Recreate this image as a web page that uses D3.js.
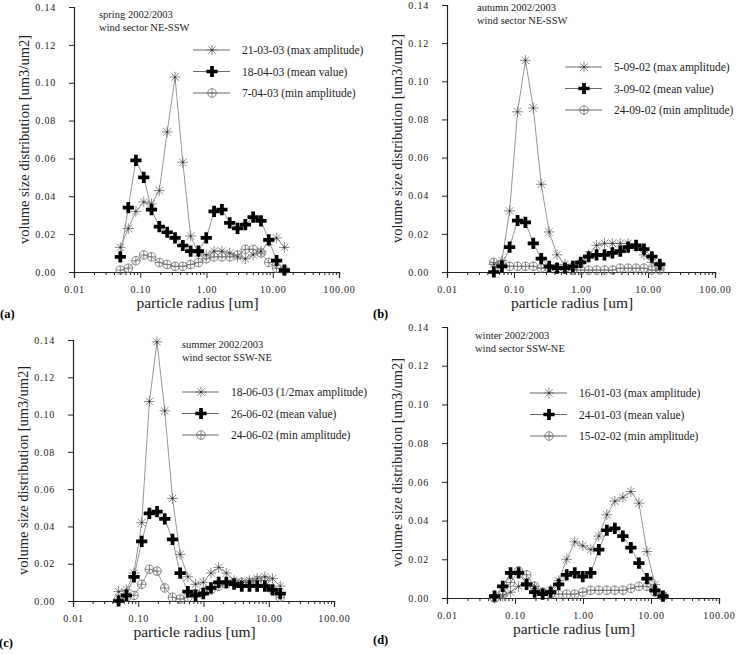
<!DOCTYPE html>
<html>
<head>
<meta charset="utf-8">
<script src="https://cdn.jsdelivr.net/npm/d3@7"></script>
<style>
  body { margin: 0; background: #fff; }
  svg text { font-family: "Liberation Serif", "DejaVu Serif", "Times New Roman", Times, serif; }
</style>
</head>
<body>
<svg id="chart" width="743" height="654"></svg>
<script>
// particle radius bins [um]
const radius = [0.050, 0.066, 0.086, 0.113, 0.148, 0.194, 0.255, 0.335, 0.439, 0.576, 0.756,
                0.992, 1.302, 1.708, 2.241, 2.940, 3.857, 5.061, 6.641, 8.713, 11.432, 15.000];

const yTicks = [0, 0.02, 0.04, 0.06, 0.08, 0.10, 0.12, 0.14];
const xTicks = [0.01, 0.1, 1, 10, 100];

// (a) spring
const springMax  = [0.013, 0.023, 0.032, 0.037, 0.036, 0.043, 0.074, 0.103, 0.058, 0.019, 0.010,
                    0.009, 0.011, 0.011, 0.010, 0.008, 0.007, 0.009, 0.011, 0.016, 0.018, 0.013];
const springMean = [0.008, 0.034, 0.059, 0.050, 0.033, 0.024, 0.021, 0.018, 0.014, 0.011, 0.011,
                    0.018, 0.032, 0.033, 0.026, 0.023, 0.025, 0.029, 0.027, 0.017, 0.006, 0.001];
const springMin  = [0.001, 0.002, 0.006, 0.009, 0.008, 0.005, 0.004, 0.003, 0.003, 0.004, 0.005,
                    0.007, 0.008, 0.008, 0.008, 0.009, 0.012, 0.012, 0.010, 0.005, 0.002, 0.001];
// (b) autumn
const autumnMax  = [0.004, 0.006, 0.032, 0.084, 0.111, 0.086, 0.046, 0.021, 0.009, 0.004, 0.003,
                    0.005, 0.009, 0.014, 0.015, 0.015, 0.015, 0.015, 0.013, 0.009, 0.005, 0.002];
const autumnMean = [0.000, 0.003, 0.013, 0.027, 0.026, 0.015, 0.007, 0.003, 0.002, 0.002, 0.003,
                    0.005, 0.008, 0.009, 0.009, 0.010, 0.011, 0.013, 0.014, 0.012, 0.008, 0.004];
const autumnMin  = [0.005, 0.004, 0.003, 0.003, 0.003, 0.003, 0.002, 0.002, 0.002, 0.002, 0.001,
                    0.001, 0.001, 0.001, 0.001, 0.001, 0.002, 0.002, 0.002, 0.002, 0.001, 0.001];
// (c) summer
const summerMax  = [0.005, 0.006, 0.015, 0.042, 0.107, 0.139, 0.102, 0.055, 0.025, 0.013, 0.009,
                    0.010, 0.015, 0.018, 0.015, 0.011, 0.010, 0.011, 0.012, 0.013, 0.012, 0.008];
const summerMean = [0.000, 0.003, 0.013, 0.032, 0.047, 0.048, 0.044, 0.033, 0.015, 0.005, 0.003,
                    0.004, 0.007, 0.010, 0.010, 0.009, 0.008, 0.008, 0.008, 0.008, 0.006, 0.004];
const summerMin  = [0.001, 0.002, 0.003, 0.009, 0.017, 0.016, 0.007, 0.002, 0.001, 0.002, 0.004,
                    0.005, 0.006, 0.008, 0.009, 0.010, 0.010, 0.010, 0.011, 0.011, 0.006, 0.002];
// (d) winter
const winterMax  = [0.000, 0.001, 0.003, 0.006, 0.008, 0.006, 0.003, 0.004, 0.009, 0.020, 0.029,
                    0.027, 0.025, 0.032, 0.043, 0.050, 0.052, 0.055, 0.049, 0.024, 0.007, 0.001];
const winterMean = [0.001, 0.006, 0.013, 0.013, 0.007, 0.003, 0.002, 0.003, 0.007, 0.012, 0.013,
                    0.011, 0.013, 0.025, 0.035, 0.036, 0.032, 0.026, 0.018, 0.010, 0.004, 0.001];
const winterMin  = [0.000, 0.002, 0.008, 0.014, 0.012, 0.006, 0.003, 0.002, 0.002, 0.002, 0.002,
                    0.003, 0.004, 0.004, 0.004, 0.004, 0.004, 0.005, 0.006, 0.006, 0.003, 0.001];

const panels = [
  { tag: "(a)", season: "spring 2002/2003", sector: "wind sector NE-SSW",
    legend: ["21-03-03 (max amplitude)", "18-04-03 (mean value)", "7-04-03 (min amplitude)"],
    series: [springMax, springMean, springMin],
    box: { left: 74, right: 339, top: 7, bottom: 272 },
    note: { x: 99, y: 18 }, leg: { x: 193, y: 50 } },
  { tag: "(b)", season: "autumn 2002/2003", sector: "wind sector NE-SSW",
    legend: ["5-09-02 (max amplitude)", "3-09-02 (mean value)", "24-09-02 (min amplitude)"],
    series: [autumnMax, autumnMean, autumnMin],
    box: { left: 447, right: 715, top: 5, bottom: 272 },
    note: { x: 477, y: 11 }, leg: { x: 565, y: 67 } },
  { tag: "(c)", season: "summer 2002/2003", sector: "wind sector SSW-NE",
    legend: ["18-06-03 (1/2max amplitude)", "26-06-02 (mean value)", "24-06-02 (min amplitude)"],
    series: [summerMax, summerMean, summerMin],
    box: { left: 73, right: 334, top: 340, bottom: 601 },
    note: { x: 182, y: 348 }, leg: { x: 182, y: 392 } },
  { tag: "(d)", season: "winter 2002/2003", sector: "wind sector SSW-NE",
    legend: ["16-01-03 (max amplitude)", "24-01-03 (mean value)", "15-02-02 (min amplitude)"],
    series: [winterMax, winterMean, winterMin],
    box: { left: 447, right: 719, top: 327, bottom: 598 },
    note: { x: 475, y: 339 }, leg: { x: 530, y: 393 } }
];

const svg = d3.select("#chart");
const LINE_GREY = "#8a8a8a";
const MARK_GREY = "#6a6a6a";
const SERIF = "'Liberation Serif', 'DejaVu Serif', 'Times New Roman', serif";

panels.forEach(drawPanel);

function drawPanel(p) {
  const b = p.box;
  const x = d3.scaleLog().domain([0.01, 100]).range([b.left, b.right]);
  const y = d3.scaleLinear().domain([0, 0.14]).range([b.bottom, b.top]);
  const g = svg.append("g").attr("font-family", SERIF);

  // y axis
  const yAxis = d3.axisLeft(y).tickValues(yTicks).tickSize(5).tickPadding(13)
    .tickFormat(d3.format(".2f"));
  const ya = g.append("g").attr("transform", `translate(${b.left},0)`).call(yAxis);
  styleAxis(ya);

  // x axis: decade ticks with labels, plus minor ticks
  const minor = [];
  for (let e = -2; e < 2; e++) for (let k = 2; k <= 9; k++) minor.push(k * Math.pow(10, e));
  const xMinor = d3.axisBottom(x).tickValues(minor).tickSize(3).tickFormat("");
  const xm = g.append("g").attr("transform", `translate(0,${b.bottom})`).call(xMinor);
  styleAxis(xm);
  const xAxis = d3.axisBottom(x).tickValues(xTicks).tickSize(6).tickPadding(8)
    .tickFormat(d3.format(".2f"));
  const xa = g.append("g").attr("transform", `translate(0,${b.bottom})`).call(xAxis);
  styleAxis(xa);

  // axis titles
  g.append("text")
    .attr("transform", `translate(${b.left - 45},${(b.top + b.bottom) / 2}) rotate(-90)`)
    .attr("text-anchor", "middle").attr("font-size", 14.5).attr("fill", "#222")
    .text("volume size distribution [um3/um2]");
  g.append("text")
    .attr("x", (b.left + b.right) / 2 - 9).attr("y", b.bottom + 36)
    .attr("text-anchor", "middle").attr("font-size", 15.5).attr("fill", "#222")
    .text("particle radius [um]");
  g.append("text")
    .attr("x", b.left - 74).attr("y", b.bottom + 46)
    .attr("font-size", 12.5).attr("font-weight", "bold")
    .text(p.tag);

  // season notes
  g.append("text").attr("x", p.note.x).attr("y", p.note.y)
    .attr("font-size", 10.5).attr("fill", "#222").text(p.season);
  g.append("text").attr("x", p.note.x).attr("y", p.note.y + 12.5)
    .attr("font-size", 10.5).attr("fill", "#222").text(p.sector);

  const line = d3.line().x((d, i) => x(radius[i])).y(d => y(d));
  const kinds = ["star", "plus", "circle"];

  // lines first, then markers
  p.series.forEach(vals => {
    g.append("path").datum(vals).attr("d", line)
      .attr("fill", "none").attr("stroke", LINE_GREY).attr("stroke-width", 0.9);
  });
  [2, 0, 1].forEach(si => {
    p.series[si].forEach((v, i) => drawMarker(g, kinds[si], x(radius[i]), y(v)));
  });

  // legend
  p.legend.forEach((label, i) => {
    const ly = p.leg.y + i * 21.5;
    g.append("line").attr("x1", p.leg.x).attr("x2", p.leg.x + 37)
      .attr("y1", ly).attr("y2", ly).attr("stroke", "#555").attr("stroke-width", 0.9);
    drawMarker(g, kinds[i], p.leg.x + 19, ly);
    g.append("text").attr("x", p.leg.x + 49).attr("y", ly).attr("dy", "0.35em")
      .attr("font-size", 11.5).attr("fill", "#222").text(label);
  });
}

function styleAxis(sel) {
  sel.attr("font-family", SERIF);
  sel.select(".domain").attr("stroke", "#222").attr("stroke-width", 1.2);
  sel.selectAll(".tick line").attr("stroke", "#222").attr("stroke-width", 1);
  sel.selectAll(".tick text").attr("font-size", 10).attr("fill", "#222")
    .attr("letter-spacing", 0.8);
}

function drawMarker(g, kind, cx, cy) {
  if (kind === "star") {
    const r = 5.3;
    const path = d3.path();
    for (let a = 0; a < 4; a++) {
      const ang = a * Math.PI / 4;
      path.moveTo(cx - r * Math.cos(ang), cy - r * Math.sin(ang));
      path.lineTo(cx + r * Math.cos(ang), cy + r * Math.sin(ang));
    }
    g.append("path").attr("d", path.toString()).attr("stroke", MARK_GREY)
      .attr("stroke-width", 0.8).attr("fill", "none");
    g.append("circle").attr("cx", cx).attr("cy", cy).attr("r", 0.9).attr("fill", "#222");
  } else if (kind === "plus") {
    g.append("path")
      .attr("d", d3.symbol(d3.symbolCross, 70)())
      .attr("transform", `translate(${cx},${cy})`)
      .attr("fill", "#000");
  } else {
    g.append("circle").attr("cx", cx).attr("cy", cy).attr("r", 4.3)
      .attr("fill", "none").attr("stroke", MARK_GREY).attr("stroke-width", 0.8);
    g.append("path")
      .attr("d", `M${cx - 4.3},${cy}H${cx + 4.3}M${cx},${cy - 4.3}V${cy + 4.3}`)
      .attr("stroke", MARK_GREY).attr("stroke-width", 0.8);
  }
}
</script>
</body>
</html>
